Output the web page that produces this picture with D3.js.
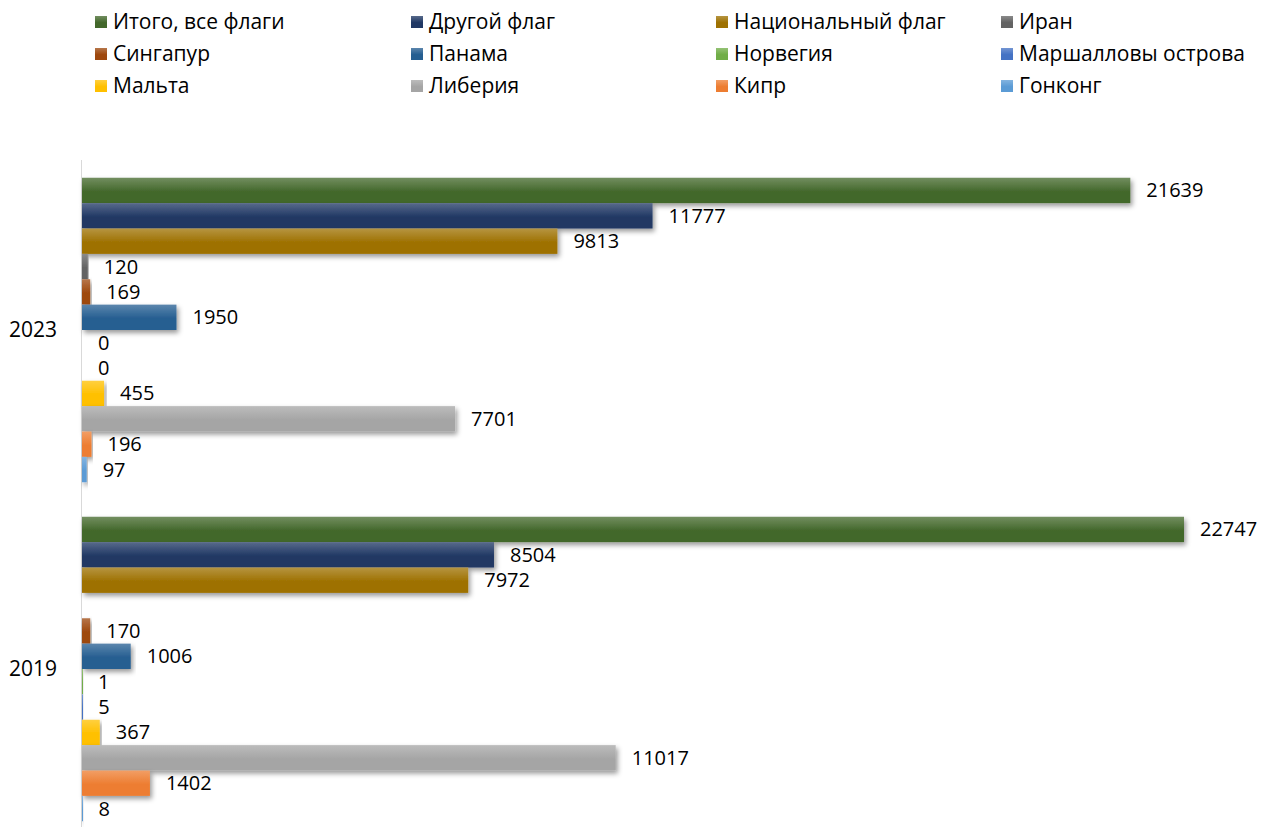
<!DOCTYPE html>
<html>
<head>
<meta charset="utf-8">
<script src="https://cdn.jsdelivr.net/npm/d3@7"></script>
<style>
  body { margin: 0; background: #fff; }
  svg { display: block; font-family: "Open Sans", "Noto Sans", sans-serif; }
</style>
</head>
<body>
<svg id="chart" width="1267" height="827"></svg>
<script>
const years = ['2023', '2019'];
const seriesNames = [
    'Итого, все флаги', 'Другой флаг', 'Национальный флаг', 'Иран',
    'Сингапур', 'Панама', 'Норвегия', 'Маршалловы острова',
    'Мальта', 'Либерия', 'Кипр', 'Гонконг'
];
const seriesColors = [
    '#43682b', '#203864', '#9e7102', '#636363',
    '#9e480e', '#255e91', '#70ad47', '#4472c4',
    '#ffc000', '#a5a5a5', '#ed7d31', '#5b9bd5'
];
const values2023 = [21639, 11777, 9813, 120, 169, 1950, 0, 0, 455, 7701, 196, 97];
const values2019 = [22747, 8504, 7972, null, 170, 1006, 1, 5, 367, 11017, 1402, 8];

const valuesByYear = { '2023': values2023, '2019': values2019 };

const svg = d3.select('#chart');
const defs = svg.append('defs');

// soft shadow under the bars
const shadow = defs.append('filter')
    .attr('id', 'shadow')
    .attr('x', '-5%').attr('y', '-30%')
    .attr('width', '115%').attr('height', '180%');
shadow.append('feDropShadow')
    .attr('dx', 2).attr('dy', 3)
    .attr('stdDeviation', 2.5)
    .attr('flood-color', '#000')
    .attr('flood-opacity', 0.4);

seriesColors.forEach((c, i) => {
    const g = defs.append('linearGradient')
        .attr('id', 'grad' + i)
        .attr('x1', 0).attr('y1', 0).attr('x2', 0).attr('y2', 1);
    const top = d3.interpolateRgb(c, '#ffffff')(0.25);
    g.append('stop').attr('offset', '0%').attr('stop-color', top);
    g.append('stop').attr('offset', '55%').attr('stop-color', c);
    g.append('stop').attr('offset', '100%').attr('stop-color', c);
});

// legend
const legendCols = [95, 411, 716, 1001];
const legendRows = [22, 54, 86];
const legend = svg.append('g').attr('class', 'legend');
seriesNames.forEach((name, i) => {
    const x = legendCols[i % 4];
    const y = legendRows[Math.floor(i / 4)];
    const item = legend.append('g').attr('transform', `translate(${x},${y})`);
    item.append('rect')
        .attr('x', 0).attr('y', -6)
        .attr('width', 12).attr('height', 12)
        .attr('fill', `url(#grad${i})`);
    item.append('text')
        .attr('x', 18).attr('y', 0)
        .attr('dy', '0.35em')
        .style('font-size', '21px')
        .attr('fill', '#000')
        .text(name);
});

const x = d3.scaleLinear()
    .domain([0, 22747])
    .range([82, 1184]);

const y0 = d3.scaleBand()
    .domain(years)
    .range([160.5, 838.5])
    .paddingInner(0)
    .paddingOuter(0);

const y1 = d3.scaleBand()
    .domain(d3.range(seriesNames.length))
    .range([0, y0.bandwidth()])
    .paddingOuter(0.68)
    .paddingInner(0);

// category axis line
svg.append('line')
    .attr('x1', 81.5).attr('x2', 81.5)
    .attr('y1', 160).attr('y2', 827)
    .attr('stroke', '#d9d9d9')
    .attr('stroke-width', 1);

const groups = svg.selectAll('.group')
    .data(years)
    .enter()
    .append('g')
    .attr('class', 'group')
    .attr('transform', d => `translate(0,${y0(d)})`);

groups.append('text')
    .attr('x', 9)
    .attr('y', y0.bandwidth() / 2)
    .attr('dy', '0.35em')
    .style('font-size', '21px')
    .text(d => d);

groups.each(function (year) {
    const g = d3.select(this);
    const vals = valuesByYear[year]
        .map((v, i) => ({ v, i }))
        .filter(d => d.v !== null);

    g.selectAll('rect.bar')
        .data(vals)
        .enter()
        .append('rect')
        .attr('class', 'bar')
        .attr('x', x(0))
        .attr('y', d => y1(d.i))
        .attr('width', d => Math.max(x(d.v) - x(0), d.v > 0 ? 1 : 0))
        .attr('height', y1.bandwidth())
        .attr('fill', d => `url(#grad${d.i})`)
        .attr('filter', 'url(#shadow)');

    g.selectAll('text.val')
        .data(vals)
        .enter()
        .append('text')
        .attr('class', 'val')
        .attr('x', d => x(d.v) + 16)
        .attr('y', d => y1(d.i) + y1.bandwidth() / 2)
        .attr('dy', '0.35em')
        .style('font-size', '20px')
        .text(d => d.v);
});
</script>
</body>
</html>
